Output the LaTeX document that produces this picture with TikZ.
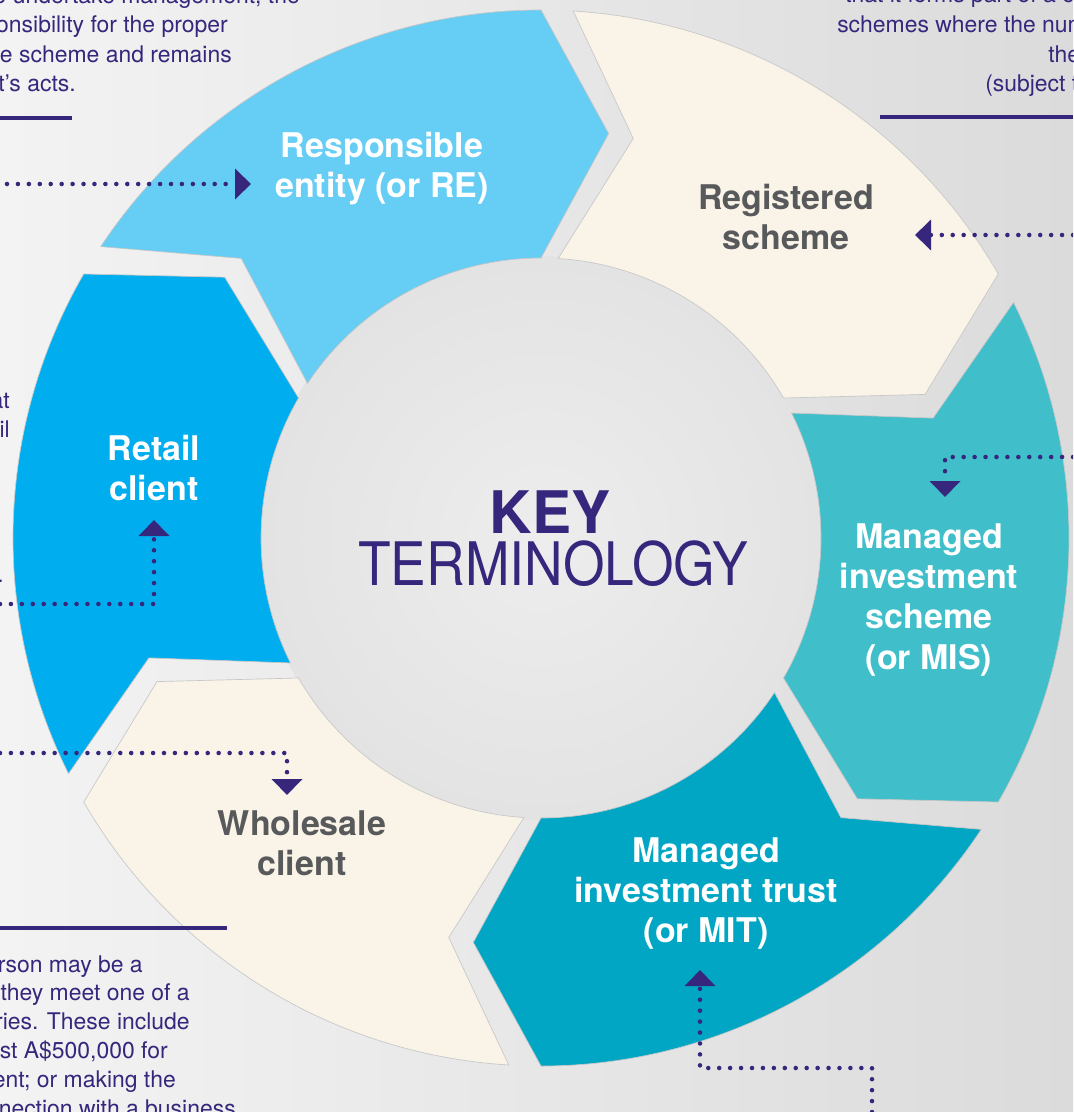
\documentclass[tikz,border=0pt]{standalone}
\usepackage{fontspec}
\setmainfont{TeX Gyre Heros}
\newfontfamily\keyfont[FakeStretch=0.89]{TeX Gyre Heros}
\usetikzlibrary{arrows.meta}

\definecolor{kpurple}{RGB}{54,38,124}
\definecolor{kgrey}{RGB}{88,89,91}
\definecolor{cRE}{RGB}{102,205,244}
\definecolor{cCream}{RGB}{249,243,232}
\definecolor{cMIS}{RGB}{64,190,202}
\definecolor{cMIT}{RGB}{0,166,196}
\definecolor{cRetail}{RGB}{0,174,239}
\definecolor{bgl}{RGB}{243,243,243}
\definecolor{bgr}{RGB}{219,219,219}

\begin{document}
\begin{tikzpicture}[x=0.75pt, y=-0.75pt,
    seg/.style={draw=black!22, line width=0.5pt},
    lbl/.style={font=\bfseries\fontsize{25.5}{30}\selectfont, align=center, text=white},
    lbldark/.style={lbl, text=kgrey},
    body/.style={font=\fontsize{17.2}{22}\selectfont, text=kpurple, inner sep=0pt},
    dots/.style={kpurple, line width=3.4pt, line cap=round, dash pattern=on 0pt off 8.2pt,
        -{Triangle[length=12pt, width=22.5pt]}},
    rule/.style={kpurple, line width=3pt}]
    \useasboundingbox (0,0) rectangle (1073,1112);
    \clip (0,0) rectangle (1073,1112);

    % Background
    \shade[left color=bgl, right color=bgr] (0,0) rectangle (1073,1112);
    \coordinate (ctr) at (541,538);
    \shade[inner color=black!7, outer color=black!11] (ctr) circle[radius=282];

    % Ring of six arrows, all pointing clockwise
    \begin{scope}[shift={(ctr)}, yscale=-1]
        \foreach \h/\c in {90/cRE, 30/cCream, -30/cMIS, -90/cMIT, -150/cCream, 150/cRetail} {
            \pgfmathsetmacro{\s}{\h+56.5}
            \filldraw[seg, fill=\c] (\s:528) arc[start angle=\s, end angle=\h, radius=528]
                -- ({\h-9.5}:410) -- (\h:280) arc[start angle=\h, end angle=\s, radius=280]
                -- ({\s-9.5}:410) -- cycle;
        }
    \end{scope}

    % Centre title
    \node[kpurple, font=\bfseries\fontsize{44}{44}\selectfont, anchor=base, inner sep=0pt] (key) at (550,533) {KEY};
    \node[kpurple, font=\keyfont\fontsize{45}{45}\selectfont, anchor=base, inner sep=0pt] (term) at (553,585) {TERMINOLOGY};

    % Segment labels
    \node[lbl] (re) at (382,169) {Responsible\\entity (or RE)};
    \node[lbldark] (reg) at (786,217) {Registered\\scheme};
    \node[lbl] (mis) at (929,600) {Managed\\investment\\scheme\\(or MIS)};
    \node[lbl] (mit) at (706,893) {Managed\\investment trust\\(or MIT)};
    \node[lbldark] (whs) at (302,843) {Wholesale\\client};
    \node[lbl] (ret) at (154,468) {Retail\\client};

    % Dotted pointers
    \coordinate (reFrom) at (7,184);     \coordinate (reTip) at (251,184);
    \coordinate (regFrom) at (1073,235); \coordinate (regTip) at (915,235);
    \coordinate (misFrom) at (1073,457); \coordinate (misTip) at (945,497);
    \coordinate (retFrom) at (0,604);    \coordinate (retTip) at (154,520);
    \coordinate (whsFrom) at (0,753);    \coordinate (whsTip) at (287,795);
    \coordinate (mitFrom) at (872,1112); \coordinate (mitBend) at (700,1068);
    \coordinate (mitTip) at (700,970);
    \draw[dots] (reFrom) -- (reTip);
    \draw[dots] (regFrom) -- (regTip);
    \draw[dots] (misFrom) -| (misTip);
    \draw[dots] (retFrom) -| (retTip);
    \draw[dots] (whsFrom) -| (whsTip);
    \draw[dots] (mitFrom) |- (mitBend) -- (mitTip);

    % Rules
    \draw[rule] (0,118) -- (72,118);
    \draw[rule] (880,117) -- (1073,117);
    \draw[rule] (0,928) -- (227,928);

    % Cut-off text, top left
    \node[body, anchor=base east] (tl1) at (300,4) {o undertake management, the};
    \node[body, anchor=base east] (tl2) at (228,33) {onsibility for the proper};
    \node[body, anchor=base east] (tl3) at (232,63) {e scheme and remains};
    \node[body, anchor=base east] (tl4) at (76,92) {t’s acts.};

    % Cut-off text, top right
    \node[body, anchor=base west] (tr1) at (845,3) {that it forms part of a c};
    \node[body, anchor=base west] (tr2) at (837,33) {schemes where the num};
    \node[body, anchor=base west] (tr3) at (1048,63) {the};
    \node[body, anchor=base west] (tr4) at (985,92) {(subject t};

    % Cut-off text, left
    \node[body, anchor=base east] (ml1) at (10,408) {at};
    \node[body, anchor=base east] (ml2) at (10,437) {il};
    \node[body, anchor=base east] (ml3) at (4,582) {.};

    % Cut-off text, bottom left
    \node[body, anchor=base east] (bl1) at (143,972) {rson may be a};
    \node[body, anchor=base east] (bl2) at (190,1000) {they meet one of a};
    \node[body, anchor=base east] (bl3) at (190,1029) {ries. These include};
    \node[body, anchor=base east] (bl4) at (168,1058) {st A\$500,000 for};
    \node[body, anchor=base east] (bl5) at (176,1087) {ent; or making the};
    \node[body, anchor=base east] (bl6) at (236,1116) {nection with a business};
\end{tikzpicture}
\end{document}
